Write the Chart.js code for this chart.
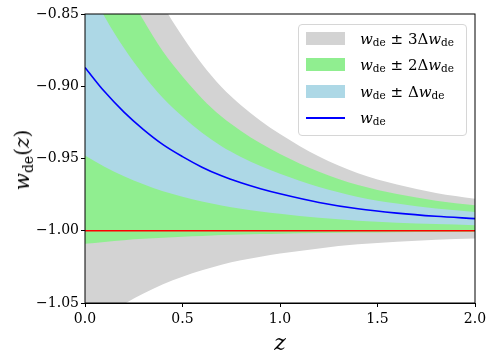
<!DOCTYPE html>
<html>
<head>
<meta charset="utf-8">
<script src="https://cdn.jsdelivr.net/npm/chart.js@4"></script>
<style>
  body { margin: 0; background: #fff; }
  #wrap { position: relative; width: 494px; height: 362px; font-family: "DejaVu Serif", serif; color: #000; }
  .math i { font-style: italic; }
  .math sub { font-size: 70%; vertical-align: -0.28em; line-height: 0; }
  #legend { position: absolute; left: 298px; top: 24px; width: 167px; height: 110px;
            border: 1px solid #d6d6d6; border-radius: 4px; background: rgba(255,255,255,0.8); }
  .patch { position: absolute; left: 7px; width: 39px; height: 13px; }
  .row { position: absolute; left: 61px; font-size: 15px; white-space: nowrap; line-height: 1; transform: translateY(-50%); }
  #ylab { position: absolute; left: 22px; top: 160px; font-size: 20px; white-space: nowrap; transform: translate(-50%, -50%) rotate(-90deg); }
  #xlab { position: absolute; left: 280px; top: 342px; font-size: 22px; font-style: italic; transform: translate(-50%, -50%); }
</style>
</head>
<body>
<div id="wrap">
  <canvas id="grafik" width="494" height="362"></canvas>
  <div id="legend">
    <div class="patch" style="top:7px;background:#d3d3d3"></div>
    <div class="row math" style="top:13.7px"><i>w</i><sub>de</sub> ± 3Δ<i>w</i><sub>de</sub></div>
    <div class="patch" style="top:33.3px;background:#90ee90"></div>
    <div class="row math" style="top:40px"><i>w</i><sub>de</sub> ± 2Δ<i>w</i><sub>de</sub></div>
    <div class="patch" style="top:60px;background:#add8e6"></div>
    <div class="row math" style="top:67px"><i>w</i><sub>de</sub> ± Δ<i>w</i><sub>de</sub></div>
    <div class="patch" style="top:92px;height:2px;background:#0000ff"></div>
    <div class="row math" style="top:92.7px"><i>w</i><sub>de</sub></div>
  </div>
  <div id="ylab" class="math"><i>w</i><sub>de</sub>(<i>z</i>)</div>
  <div id="xlab">z</div>
</div>
<script>
// data
const zVals = [0, 0.1, 0.2, 0.3, 0.4, 0.5, 0.6, 0.7, 0.8, 0.9, 1.0, 1.2, 1.4, 1.6, 1.8, 2.0];
const wDE = [-0.887, -0.9037, -0.9179, -0.930, -0.9404, -0.9487, -0.956, -0.962, -0.9668, -0.9709, -0.9744, -0.9804, -0.9848, -0.9878, -0.990, -0.9916];
const deltaW = [0.061, 0.052, 0.0443, 0.0378, 0.0322, 0.0277, 0.0238, 0.0205, 0.0179, 0.0157, 0.0138, 0.0106, 0.0082, 0.0066, 0.0054, 0.0046];
const wLambda = -1;
const xTicks = [0, 0.5, 1.0, 1.5, 2.0];
const yTicks = [-1.05, -1.00, -0.95, -0.90, -0.85];

function band(k, sign) {
  return zVals.map((z, i) => ({ x: z, y: wDE[i] + sign * k * deltaW[i] }));
}

const common = { pointRadius: 0, borderWidth: 0, cubicInterpolationMode: 'monotone' };

const datasets = [
  { ...common, data: zVals.map((z, i) => ({ x: z, y: wDE[i] })), borderColor: '#0000ff', borderWidth: 1.6, fill: false, order: 1 },
  { ...common, data: [{ x: 0, y: wLambda }, { x: 2, y: wLambda }], borderColor: '#ff0000', borderWidth: 1.6, fill: false, order: 0 },
  { ...common, data: band(1, 1), backgroundColor: '#add8e6', fill: 3, order: 2 },
  { ...common, data: band(1, -1), fill: false, order: 2 },
  { ...common, data: band(2, 1), backgroundColor: '#90ee90', fill: 5, order: 3 },
  { ...common, data: band(2, -1), fill: false, order: 3 },
  { ...common, data: band(3, 1), backgroundColor: '#d3d3d3', fill: 7, order: 4 },
  { ...common, data: band(3, -1), fill: false, order: 4 }
];

const frame = {
  id: 'frame',
  afterDraw(chart) {
    const a = chart.chartArea, ctx = chart.ctx;
    ctx.save();
    ctx.strokeStyle = '#000';
    ctx.lineWidth = 1;
    ctx.strokeRect(a.left, a.top, a.right - a.left, a.bottom - a.top);
    ctx.restore();
  }
};

const tickFont = { family: 'DejaVu Serif', size: 14 };

new Chart(document.getElementById('grafik'), {
  type: 'line',
  data: { datasets },
  plugins: [frame],
  options: {
    responsive: false,
    animation: false,
    devicePixelRatio: 1,
    layout: { padding: { left: 0, right: 19, top: 14, bottom: 0 } },
    plugins: { legend: { display: false }, tooltip: { enabled: false } },
    scales: {
      x: {
        type: 'linear', min: 0, max: 2,
        afterBuildTicks: s => { s.ticks = xTicks.map(v => ({ value: v })); },
        afterFit: s => { s.height = 59; },
        ticks: { font: tickFont, color: '#000', padding: 4, callback: v => v.toFixed(1) },
        grid: { drawOnChartArea: false, tickLength: 4, color: '#000' },
        border: { color: '#000' }
      },
      y: {
        min: -1.05, max: -0.85,
        afterBuildTicks: s => { s.ticks = yTicks.map(v => ({ value: v })); },
        afterFit: s => { s.width = 85; },
        ticks: { font: tickFont, color: '#000', padding: 2, callback: v => '\u2212' + Math.abs(v).toFixed(2) },
        grid: { drawOnChartArea: false, tickLength: 4, color: '#000' },
        border: { color: '#000' }
      }
    }
  }
});
</script>
</body>
</html>
